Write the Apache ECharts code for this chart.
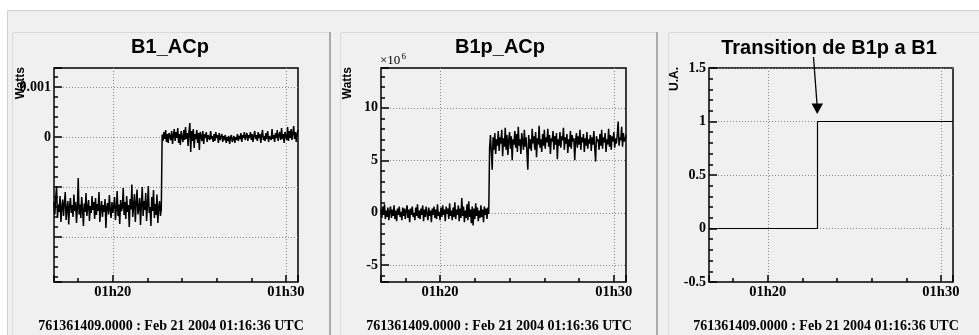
<!DOCTYPE html>
<html><head><meta charset="utf-8">
<script src="https://cdn.jsdelivr.net/npm/echarts@6/dist/echarts.min.js"></script>
<style>html,body{margin:0;padding:0;background:#fff}#c{width:979px;height:335px}</style>
</head><body><div id="c"></div>
<script>
// sampling grid of the monitored channels (seconds after 01:00:00 UTC)
const sampleStartSec = 996;   // 01:16:36
const sampleStepSec = 3;

// B1_ACp, in mW (before / after the transition)
const b1Before = [
-1.30,-1.55,-1.20,-0.98,-1.62,-1.35,-1.50,-1.18,-1.70,-1.40,
-1.25,-1.58,-1.32,-1.10,-1.66,-1.44,-1.28,-1.75,-1.38,-1.22,
-1.52,-1.36,-1.60,-1.15,-1.48,-1.30,-1.72,-1.42,-0.82,-1.55,
-1.35,-1.62,-1.20,-1.45,-1.78,-1.33,-1.50,-1.12,-1.58,-1.40,
-1.26,-1.68,-1.38,-1.52,-1.18,-1.46,-1.30,-1.64,-1.22,-1.56,
-1.34,-1.48,-1.10,-1.70,-1.42,-1.28,-1.60,-1.36,-1.50,-1.24,
-1.82,-1.40,-1.32,-1.55,-1.16,-1.46,-1.62,-1.30,-1.52,-1.38,
-1.20,-1.66,-1.44,-1.08,-1.58,-1.35,-1.74,-1.26,-1.48,-1.40,
-1.02,-1.56,-1.30,-1.64,-1.18,-1.50,-1.36,-1.80,-1.24,-1.45,
-0.95,-1.60,-1.38,-1.14,-1.70,-1.32,-1.05,-1.55,-1.42,-1.22,
-1.76,-1.34,-1.00,-1.58,-1.28,-1.46,-1.12,-1.68,-1.36,-0.98,
-1.52,-1.40,-1.78,-1.20,-1.48,-1.06,-1.62,-1.34,-1.56,-1.15,
-1.72,-1.40,-1.28,-1.58,-1.45];
const b1After = [
0.05,-0.08,0.10,-0.04,0.14,-0.10,0.06,-0.12,0.08,0.02,
-0.06,0.12,-0.14,0.04,0.16,-0.08,0.10,-0.02,0.18,-0.12,
0.06,-0.16,0.12,0.00,-0.10,0.14,-0.06,0.20,-0.04,0.08,
-0.18,0.10,0.28,-0.30,0.12,-0.08,0.16,-0.22,0.06,-0.04,
0.14,-0.12,0.08,-0.26,0.10,0.02,-0.08,0.12,-0.14,0.06,
-0.02,0.10,-0.10,0.04,0.08,-0.06,0.12,-0.04,0.02,-0.10,
0.06,-0.08,0.10,-0.02,0.04,-0.12,0.08,-0.06,0.00,0.06,
-0.10,0.02,-0.06,0.04,-0.12,0.00,-0.08,0.02,-0.14,-0.02,
0.04,-0.10,-0.04,0.02,-0.12,0.00,-0.06,0.06,-0.08,0.02,
-0.04,0.08,-0.10,0.04,-0.02,0.10,-0.06,0.02,0.08,-0.08,
0.04,-0.02,0.10,-0.06,0.06,-0.10,0.02,0.12,-0.04,0.04,
-0.08,0.10,-0.02,0.06,-0.12,0.04,0.14,-0.06,0.02,-0.08,
0.08,-0.04,0.12,-0.10,0.02,0.06,-0.06,0.16,-0.04,0.04,
-0.10,0.08,-0.02,0.14,-0.08,0.04,0.10,-0.06,0.18,-0.04,
0.06,-0.12,0.10,0.02,-0.06,0.20,-0.08,0.12,-0.02,0.16,
-0.06,0.08,0.22,-0.04,0.10,-0.10,0.06,0.14];

// B1p_ACp, in units of 10^6 W
const b1pBefore = [
0.30,-0.50,0.60,-0.20,0.80,-0.60,0.20,-0.40,0.50,-0.70,
0.10,0.60,-0.50,0.30,-0.30,0.70,-0.60,0.20,-0.80,0.40,
-0.20,0.60,-0.40,0.10,-0.70,0.50,-0.30,0.40,-0.60,0.20,
0.70,-0.50,0.30,-0.90,0.40,-0.20,0.60,-0.40,0.00,-0.70,
0.50,-0.30,0.80,-0.50,0.20,-0.60,0.40,-0.20,0.70,-0.80,
0.30,-0.40,0.60,-0.10,-0.70,0.50,-0.30,0.20,-0.90,0.40,
-0.20,0.60,-0.50,0.30,-0.60,0.80,-0.30,0.10,-0.70,0.50,
-0.40,0.70,-0.20,0.30,-0.80,0.60,-0.10,0.40,-0.60,0.90,
-0.30,0.20,-0.70,0.50,-0.40,1.00,-0.60,0.30,-0.20,0.70,
-0.80,0.40,-0.50,1.40,-0.30,0.60,-0.90,0.20,-0.50,0.80,
-0.70,1.10,-0.40,0.30,-1.00,0.60,-1.20,0.40,-0.60,0.90,
-0.30,0.50,-0.80,0.20,-0.50,0.70,-0.40,0.30,-0.90,0.60,
-0.20,0.40,-0.60,0.50,-0.10];
const b1pAfter = [
6.2,7.4,5.8,4.1,7.2,6.0,7.6,5.6,7.0,6.4,
7.8,5.9,7.2,6.6,7.9,5.4,7.1,6.3,8.1,6.0,
7.4,5.5,6.9,7.7,6.1,7.3,5.0,7.0,6.5,7.8,
6.2,7.5,5.8,8.2,6.4,7.0,5.6,7.6,6.8,6.0,
7.9,6.3,7.2,5.7,4.1,7.4,6.1,7.0,5.9,8.0,
6.6,7.3,6.0,7.7,5.3,7.1,6.5,8.3,6.2,7.0,
5.8,7.5,6.4,7.9,6.1,7.2,6.7,8.0,6.3,7.4,
5.6,7.1,6.8,7.8,6.0,7.3,6.5,7.6,5.1,7.0,
6.4,7.7,6.2,7.3,6.9,8.1,6.0,7.2,6.6,7.5,
5.7,7.0,6.3,7.8,6.1,7.4,6.8,7.1,5.0,6.9,
7.6,6.2,7.3,6.5,7.9,6.0,7.2,6.7,7.5,5.8,
7.1,6.4,7.7,6.1,7.0,6.6,7.4,5.9,7.2,6.5,
7.8,6.2,4.9,7.3,6.8,7.0,6.0,7.5,6.4,7.9,
6.1,7.2,6.7,7.6,5.8,7.0,6.5,8.0,6.3,7.4,
6.0,7.3,6.8,7.7,6.2,7.1,6.6,7.5,8.7,6.4,
7.2,6.9,8.2,6.3,7.6,6.8,7.0,7.4];

// Transition flag (U.A.) vs time in minutes after 01h
const transTimes = [16.6, 22.87, 22.87, 30.7];
const transValues = [0, 0, 1, 1];

// axes
const xRange = [16.6, 30.7];           // minutes after 01h00
const xMajorStep = 10;
const y1Range = [-2.9, 1.38];          // mW
const y2Range = [-6.6, 13.8];          // x10^6 W
const y3Range = [-0.5, 1.5];
const y1Shown = {'1': '0.001', '0': '0'};
const titles = ['B1_ACp', 'B1p_ACp', 'Transition de B1p a B1'];
const yNames = ['Watts', 'Watts', 'U.A.'];
const footer = '761361409.0000 : Feb 21 2004 01:16:36 UTC';

function timed(vals) {
  return vals.map((v, i) => [(sampleStartSec + i * sampleStepSec) / 60, v]);
}
const b1Data = timed(b1Before.concat(b1After));
const b1pData = timed(b1pBefore.concat(b1pAfter));
const transData = transTimes.map((t, i) => [t, transValues[i]]);

const serif = '"Liberation Serif", "DejaVu Serif", serif';
const sans = '"Liberation Sans", Arial, sans-serif';
const bg = '#f0f0f0';

const grids = [
  {left: 54, top: 68, width: 244, height: 214},
  {left: 381, top: 68, width: 245, height: 214},
  {left: 709, top: 68, width: 244, height: 214}
].map(g => Object.assign(g, {show: true, borderColor: '#000', borderWidth: 1.5, backgroundColor: 'transparent'}));

const tickStyle = {color: '#000', width: 1.5};
const splitStyle = {color: '#888', type: [1, 2], width: 1};

function xAxis(gi) {
  return {
    type: 'value', gridIndex: gi, position: 'bottom', min: xRange[0], max: xRange[1],
    splitNumber: 2, minInterval: xMajorStep, maxInterval: xMajorStep,
    axisLine: {show: false, onZero: false},
    axisTick: {show: true, inside: true, length: 7, lineStyle: tickStyle},
    minorTick: {show: true, splitNumber: 5, length: 4, lineStyle: tickStyle},
    splitLine: {show: true, showMinLine: false, showMaxLine: false, lineStyle: splitStyle},
    axisLabel: {
      margin: 3, color: '#000', fontFamily: serif, fontWeight: 'bold', fontSize: 14.5,
      formatter: v => Math.abs(v / xMajorStep - Math.round(v / xMajorStep)) < 1e-6 ? '01h' + Math.round(v) : ''
    }
  };
}
function yAxis(gi, range, step, fmt, maxLine) {
  return {
    type: 'value', gridIndex: gi, position: 'left', min: range[0], max: range[1],
    minInterval: step, maxInterval: step,
    axisLine: {show: false, onZero: false},
    axisTick: {show: true, inside: true, length: 8, lineStyle: tickStyle},
    minorTick: {show: true, splitNumber: 5, length: 4, lineStyle: tickStyle},
    splitLine: {show: true, showMinLine: false, showMaxLine: maxLine, lineStyle: splitStyle},
    axisLabel: {margin: 3, color: '#000', fontFamily: serif, fontWeight: 'bold', fontSize: 14, formatter: fmt}
  };
}
const near = (v, s) => Math.abs(v / s - Math.round(v / s)) < 1e-6;

const lineSeries = (data, gi, w) => ({
  type: 'line', xAxisIndex: gi, yAxisIndex: gi, data: data,
  showSymbol: false, symbol: 'none', clip: true,
  lineStyle: {color: '#000', width: w}
});

function rect(x, y, w, h, fill, z) {
  return {type: 'rect', silent: true, z: z, shape: {x, y, width: w, height: h}, style: {fill}};
}
function text(x, y, t, font, align, vAlign, rot) {
  return {type: 'text', x, y, rotation: rot || 0, z: 5, silent: true,
    style: {text: t, font, fill: '#000', align, verticalAlign: vAlign}};
}

const graphic = [
  // canvas / pads
  rect(7, 10, 980, 330, bg, -10),
  rect(7, 10, 980, 1, '#d2d2d2', -9),
  rect(7, 10, 1, 330, '#d2d2d2', -9),
  rect(12, 32, 318, 1, '#dadada', -9), rect(12, 32, 1, 310, '#dadada', -9), rect(329, 32, 2, 310, '#ababab', -9),
  rect(340, 32, 317, 1, '#dadada', -9), rect(340, 32, 1, 310, '#dadada', -9), rect(656, 32, 2, 310, '#ababab', -9),
  rect(668, 32, 320, 1, '#dadada', -9), rect(668, 32, 1, 310, '#dadada', -9),
  // titles
  text(170, 47, titles[0], 'bold 20px ' + sans, 'center', 'middle'),
  text(500, 47, titles[1], 'bold 20px ' + sans, 'center', 'middle'),
  text(829, 48, titles[2], 'bold 20px ' + sans, 'center', 'middle'),
  // y titles
  text(20.5, 67, yNames[0], 'bold 12px ' + sans, 'right', 'middle', Math.PI / 2),
  text(347.5, 67, yNames[1], 'bold 12px ' + sans, 'right', 'middle', Math.PI / 2),
  text(674.5, 67, yNames[2], 'bold 12px ' + sans, 'right', 'middle', Math.PI / 2),
  // exponent
  text(380, 67, '\u00d710', '13px ' + serif, 'left', 'bottom'),
  text(401.5, 61, '6', '9px ' + serif, 'left', 'bottom'),
  // footers
  text(171, 326, footer, 'bold 14px ' + serif, 'center', 'middle'),
  text(499, 326, footer, 'bold 14px ' + serif, 'center', 'middle'),
  text(826, 326, footer, 'bold 14px ' + serif, 'center', 'middle'),
  // arrow
  {type: 'line', z: 5, silent: true, shape: {x1: 813.5, y1: 57, x2: 817, y2: 104}, style: {stroke: '#000', lineWidth: 1.3}},
  {type: 'polygon', z: 5, silent: true, shape: {points: [[811.5, 103.5], [823, 103.5], [817.2, 114]]}, style: {fill: '#000'}}
];

const option = {
  backgroundColor: '#ffffff',
  animation: false,
  grid: grids,
  xAxis: [xAxis(0), xAxis(1), xAxis(2)],
  yAxis: [
    yAxis(0, y1Range, 1, v => { const k = String(Math.round(v)); return near(v, 1) && y1Shown[k] ? y1Shown[k] : ''; }, false),
    yAxis(1, y2Range, 5, v => near(v, 5) ? String(Math.round(v)) : '', false),
    yAxis(2, y3Range, 0.5, v => near(v, 0.5) ? String(Math.round(v * 2) / 2) : '', true)
  ],
  series: [lineSeries(b1Data, 0, 1.5), lineSeries(b1pData, 1, 1.5), lineSeries(transData, 2, 1.2)],
  graphic: graphic
};

const chart = echarts.init(document.getElementById('c'), null, {renderer: 'canvas'});
chart.setOption(option);
</script>
</body></html>
